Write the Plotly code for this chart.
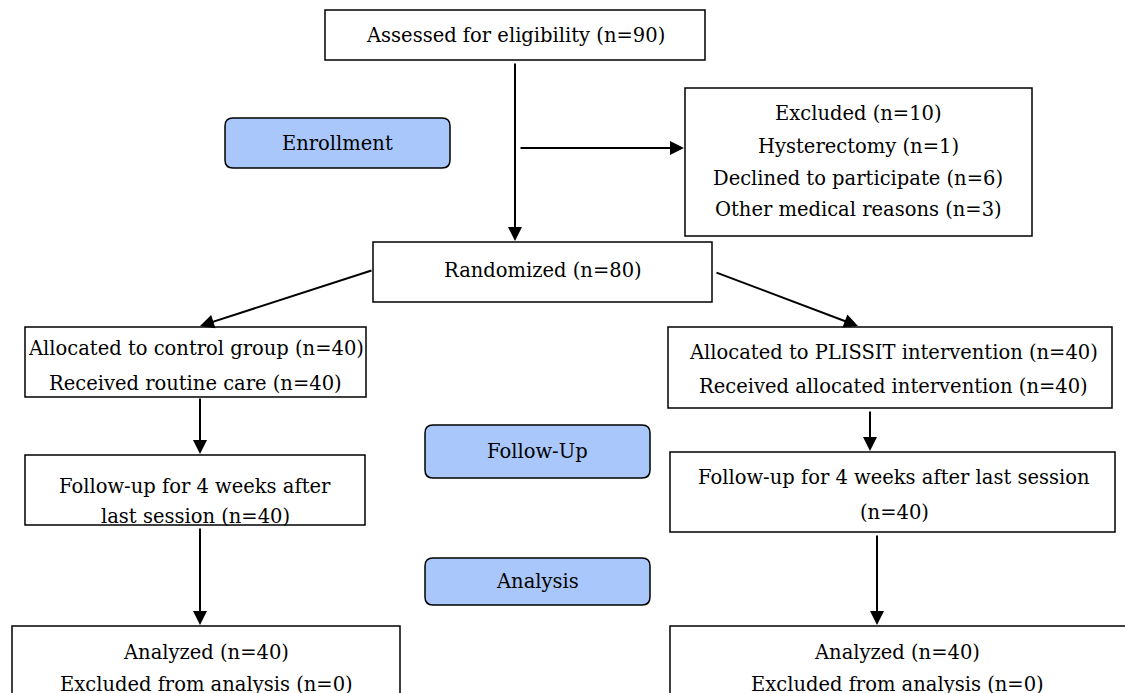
import plotly.graph_objects as go

# ---- data: box texts (CONSORT flow) ----
box_names = ["assessed", "excluded", "randomized", "control_alloc", "plissit_alloc",
             "control_fu", "plissit_fu", "control_an", "plissit_an"]
box_lines = [
    ["Assessed for eligibility (n=90)"],
    ["Excluded (n=10)", "Hysterectomy (n=1)", "Declined to participate (n=6)", "Other medical reasons (n=3)"],
    ["Randomized (n=80)"],
    ["Allocated to control group (n=40)", "Received routine care (n=40)"],
    ["Allocated to PLISSIT intervention (n=40)", "Received allocated intervention (n=40)"],
    ["Follow-up for 4 weeks after", "last session (n=40)"],
    ["Follow-up for 4 weeks after last session", "(n=40)"],
    ["Analyzed (n=40)", "Excluded from analysis (n=0)"],
    ["Analyzed (n=40)", "Excluded from analysis (n=0)"],
]
stage_labels = ["Enrollment", "Follow-Up", "Analysis"]

# ---- layout geometry (pixels of the 1125x693 canvas) ----
box_geom = {  # x0, x1, y0, y1, text line centres
    "assessed":      (325, 705, 10, 60, [35]),
    "excluded":      (685, 1032, 88, 236, [113, 146, 178, 209]),
    "randomized":    (373, 712, 242, 302, [270]),
    "control_alloc": (25, 366, 327, 397, [348, 383]),
    "plissit_alloc": (668, 1112, 327, 408, [352, 386]),
    "control_fu":    (25, 365, 455, 525, [486, 516]),
    "plissit_fu":    (670, 1115, 452, 532, [477, 512]),
    "control_an":    (12, 400, 626, 720, [652, 684]),
    "plissit_an":    (670, 1135, 626, 720, [652, 684]),
}
box_text_x = {"excluded": 858, "plissit_alloc": 893, "plissit_fu": 894, "plissit_an": 897}
stage_geom = [(225, 450, 118, 168), (425, 650, 425, 478), (425, 650, 558, 605)]
arrows = [  # tail x, tail y, head x, head y
    (515, 62, 515, 241),
    (519, 148, 684, 148),
    (373, 270, 200, 326),
    (715, 272, 858, 326),
    (200, 397, 200, 454),
    (870, 410, 870, 451),
    (200, 527, 200, 625),
    (877, 534, 877, 625),
]

FONT = "DejaVu Serif"
FS = 19.5

fig = go.Figure()
shapes = []
annotations = []

for name, lines in zip(box_names, box_lines):
    x0, x1, y0, y1, ys = box_geom[name]
    shapes.append(dict(type="rect", xref="x", yref="y", x0=x0, x1=x1, y0=y0, y1=y1,
                       line=dict(color="black", width=1.5), fillcolor="white", layer="below"))
    cx = box_text_x.get(name, (x0 + x1) / 2)
    for t, yy in zip(lines, ys):
        annotations.append(dict(x=cx, y=yy, xref="x", yref="y", text=t, showarrow=False,
                                font=dict(family=FONT, size=FS, color="black"),
                                xanchor="center", yanchor="middle"))

def rounded(x0, x1, y0, y1, r=8):
    return (f"M {x0+r},{y0} L {x1-r},{y0} Q {x1},{y0} {x1},{y0+r} L {x1},{y1-r} "
            f"Q {x1},{y1} {x1-r},{y1} L {x0+r},{y1} Q {x0},{y1} {x0},{y1-r} "
            f"L {x0},{y0+r} Q {x0},{y0} {x0+r},{y0} Z")

for lab, (x0, x1, y0, y1) in zip(stage_labels, stage_geom):
    shapes.append(dict(type="path", xref="x", yref="y", path=rounded(x0, x1, y0, y1),
                       line=dict(color="black", width=1.5), fillcolor="#a9c7fa", layer="below"))
    annotations.append(dict(x=(x0 + x1) / 2, y=(y0 + y1) / 2, xref="x", yref="y", text=lab,
                            showarrow=False, font=dict(family=FONT, size=FS, color="black"),
                            xanchor="center", yanchor="middle"))

for tx, ty, hx, hy in arrows:
    annotations.append(dict(x=hx, y=hy, ax=tx, ay=ty, xref="x", yref="y", axref="x", ayref="y",
                            text="", showarrow=True, arrowhead=2, arrowsize=1.4, arrowwidth=2,
                            arrowcolor="black", standoff=0, startstandoff=0))

fig.update_layout(
    width=1125, height=693,
    margin=dict(l=0, r=0, t=0, b=0),
    paper_bgcolor="white", plot_bgcolor="white",
    shapes=shapes, annotations=annotations, showlegend=False,
    xaxis=dict(range=[0, 1125], visible=False, fixedrange=True),
    yaxis=dict(range=[693, 0], visible=False, fixedrange=True),
)

fig.write_html("out.html", config={"displayModeBar": False},
               post_script="document.body.style.margin='0px';document.body.style.overflow='hidden';")
